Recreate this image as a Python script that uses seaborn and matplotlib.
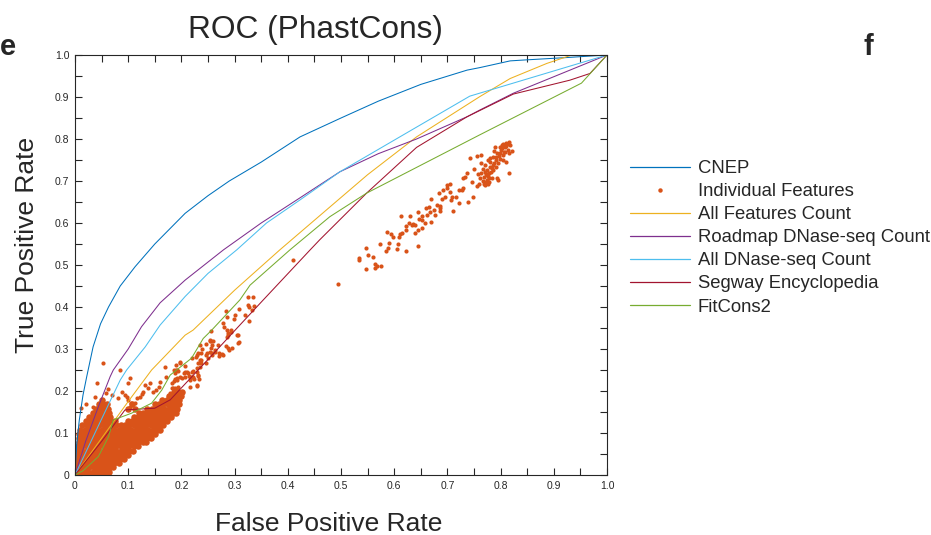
import matplotlib
matplotlib.use("Agg")
import matplotlib.pyplot as plt
import seaborn as sns
import pandas as pd
from matplotlib.lines import Line2D
from matplotlib.ticker import MultipleLocator, FixedFormatter, FixedLocator

# ---------------- data ----------------
cnep_x = [0, 0.003, 0.008, 0.015, 0.022, 0.034, 0.048, 0.063, 0.085, 0.113, 0.15, 0.207, 0.25, 0.29,
          0.35, 0.423, 0.5, 0.57, 0.65, 0.737, 0.761, 0.818, 0.843, 0.925, 1.0]
cnep_y = [0, 0.07, 0.13, 0.19, 0.234, 0.305, 0.36, 0.40, 0.45, 0.496, 0.55, 0.623, 0.665, 0.70,
          0.745, 0.805, 0.85, 0.89, 0.93, 0.964, 0.970, 0.986, 0.988, 0.994, 1.0]

allfeat_x = [0, 0.044, 0.1, 0.144, 0.207, 0.222, 0.30, 0.385, 0.479, 0.55, 0.642, 0.761, 0.818, 0.887, 0.934, 1.0]
allfeat_y = [0, 0.077, 0.175, 0.25, 0.333, 0.345, 0.44, 0.536, 0.638, 0.715, 0.805, 0.901, 0.944, 0.98, 1.0, 1.0]

roadmap_x = [0, 0.02, 0.044, 0.066, 0.072, 0.1, 0.125, 0.16, 0.207, 0.279, 0.35, 0.423, 0.498, 0.57, 0.642,
             0.737, 0.761, 0.824, 1.0]
roadmap_y = [0, 0.08, 0.163, 0.234, 0.25, 0.30, 0.353, 0.41, 0.464, 0.536, 0.60, 0.66, 0.722, 0.765, 0.80,
             0.853, 0.869, 0.909, 1.0]

alldnase_x = [0, 0.03, 0.06, 0.085, 0.097, 0.132, 0.16, 0.207, 0.25, 0.304, 0.36, 0.423, 0.498, 0.742, 1.0]
alldnase_y = [0, 0.08, 0.16, 0.226, 0.25, 0.305, 0.357, 0.425, 0.48, 0.536, 0.60, 0.655, 0.722, 0.902, 1.0]

segway_x = [0, 0.05, 0.094, 0.15, 0.179, 0.25, 0.304, 0.354, 0.442, 0.46, 0.548, 0.642, 0.737, 0.824,
            0.93, 0.968, 1.0]
segway_y = [0, 0.08, 0.155, 0.159, 0.179, 0.275, 0.349, 0.417, 0.536, 0.56, 0.671, 0.78, 0.853, 0.907,
            0.94, 0.956, 1.0]

fitcons_x = [0, 0.015, 0.044, 0.063, 0.072, 0.106, 0.144, 0.163, 0.179, 0.219, 0.241, 0.257, 0.31, 0.329,
             0.404, 0.479, 0.548, 0.761, 0.952, 1.0]
fitcons_y = [0, 0.01, 0.044, 0.091, 0.131, 0.147, 0.171, 0.202, 0.238, 0.278, 0.325, 0.345, 0.417, 0.452,
             0.536, 0.615, 0.671, 0.81, 0.933, 1.0]

# individual features: upper cluster (FPR, TPR)
upper_pts = [
    (0.534, 0.516), (0.534, 0.512), (0.547, 0.540), (0.551, 0.524), (0.561, 0.518), (0.547, 0.490),
    (0.564, 0.502), (0.567, 0.498), (0.564, 0.494), (0.575, 0.498), (0.573, 0.550), (0.587, 0.579),
    (0.584, 0.534), (0.589, 0.540), (0.591, 0.552), (0.594, 0.575), (0.598, 0.566), (0.605, 0.537),
    (0.608, 0.550), (0.609, 0.567), (0.611, 0.575), (0.614, 0.577), (0.613, 0.617), (0.623, 0.533),
    (0.622, 0.583), (0.622, 0.593), (0.630, 0.617), (0.628, 0.599), (0.633, 0.595), (0.636, 0.598),
    (0.639, 0.595), (0.644, 0.545), (0.639, 0.577), (0.645, 0.583), (0.647, 0.609), (0.645, 0.627),
    (0.652, 0.587), (0.653, 0.607), (0.653, 0.617), (0.657, 0.599), (0.661, 0.619), (0.660, 0.635),
    (0.665, 0.637), (0.667, 0.627), (0.670, 0.602), (0.677, 0.618), (0.670, 0.656), (0.674, 0.631),
    (0.686, 0.640), (0.680, 0.643), (0.686, 0.635), (0.687, 0.629), (0.689, 0.656), (0.685, 0.671),
    (0.692, 0.679), (0.695, 0.661), (0.699, 0.683), (0.700, 0.690), (0.704, 0.694), (0.705, 0.675),
    (0.706, 0.655), (0.709, 0.663), (0.711, 0.629), (0.716, 0.663), (0.721, 0.679), (0.722, 0.647),
    (0.727, 0.679), (0.730, 0.684), (0.729, 0.706), (0.733, 0.709), (0.737, 0.718), (0.739, 0.651),
    (0.742, 0.754), (0.748, 0.661), (0.750, 0.728), (0.755, 0.760), (0.764, 0.762), (0.746, 0.698),
    (0.755, 0.687), (0.760, 0.694), (0.761, 0.706), (0.764, 0.718), (0.768, 0.694), (0.769, 0.710),
    (0.771, 0.722), (0.773, 0.698), (0.774, 0.702), (0.774, 0.714), (0.775, 0.726), (0.777, 0.694),
    (0.778, 0.706), (0.779, 0.718), (0.780, 0.734), (0.781, 0.746), (0.783, 0.706), (0.785, 0.738),
    (0.786, 0.758), (0.786, 0.726), (0.789, 0.782), (0.791, 0.750), (0.791, 0.734), (0.793, 0.766),
    (0.794, 0.706), (0.796, 0.742), (0.798, 0.752), (0.799, 0.766), (0.800, 0.774), (0.802, 0.786),
    (0.804, 0.762), (0.805, 0.750), (0.806, 0.770), (0.808, 0.782), (0.810, 0.790), (0.811, 0.783),
    (0.813, 0.775), (0.815, 0.794), (0.816, 0.766), (0.818, 0.786), (0.821, 0.772), (0.816, 0.720),
    (0.810, 0.746), (0.796, 0.702), (0.780, 0.754), (0.771, 0.738), (0.764, 0.742), (0.777, 0.750),
    (0.788, 0.772), (0.799, 0.782), (0.805, 0.788), (0.766, 0.700), (0.770, 0.690), (0.772, 0.716),
    (0.776, 0.712), (0.779, 0.698), (0.782, 0.722), (0.784, 0.730), (0.787, 0.744), (0.792, 0.758),
    (0.797, 0.760), (0.803, 0.778), (0.808, 0.770), (0.812, 0.788), (0.767, 0.728), (0.758, 0.716),
    (0.409, 0.512), (0.494, 0.455),
]

# individual features: sparse band along the diagonal (FPR, TPR)
band_pts = [
    (0.285, 0.345), (0.288, 0.333), (0.294, 0.341), (0.304, 0.333), (0.307, 0.315), (0.288, 0.302),
    (0.279, 0.286), (0.271, 0.290), (0.257, 0.286), (0.263, 0.298), (0.257, 0.310), (0.255, 0.320),
    (0.247, 0.312), (0.235, 0.310), (0.250, 0.278), (0.247, 0.266), (0.235, 0.274), (0.232, 0.266),
    (0.229, 0.254), (0.232, 0.238), (0.229, 0.214), (0.222, 0.234), (0.219, 0.246), (0.213, 0.242),
    (0.207, 0.246), (0.197, 0.266), (0.191, 0.250), (0.188, 0.242), (0.192, 0.230), (0.186, 0.225),
    (0.182, 0.218), (0.185, 0.206), (0.179, 0.196), (0.171, 0.234), (0.169, 0.258), (0.160, 0.222),
    (0.157, 0.210), (0.153, 0.202), (0.147, 0.198), (0.141, 0.218), (0.138, 0.206), (0.132, 0.214),
    (0.128, 0.198), (0.125, 0.194), (0.122, 0.186), (0.116, 0.183), (0.113, 0.172), (0.106, 0.171),
    (0.103, 0.163), (0.100, 0.179), (0.097, 0.186), (0.094, 0.190), (0.100, 0.218), (0.103, 0.230),
    (0.088, 0.198), (0.081, 0.183), (0.085, 0.250), (0.053, 0.266), (0.041, 0.218), (0.038, 0.186),
    (0.034, 0.163), (0.284, 0.391), (0.286, 0.377), (0.301, 0.381), (0.298, 0.371), (0.309, 0.395),
    (0.326, 0.405), (0.327, 0.401), (0.336, 0.402), (0.320, 0.381), (0.327, 0.367), (0.333, 0.394),
    (0.279, 0.363), (0.281, 0.353), (0.293, 0.345), (0.288, 0.339), (0.307, 0.333), (0.308, 0.316),
    (0.256, 0.344), (0.253, 0.321), (0.326, 0.425), (0.334, 0.425), (0.269, 0.310), (0.260, 0.319),
    (0.254, 0.320), (0.255, 0.302), (0.253, 0.294), (0.257, 0.290), (0.248, 0.291), (0.246, 0.286),
    (0.263, 0.294), (0.238, 0.300), (0.236, 0.291), (0.232, 0.290), (0.229, 0.286), (0.228, 0.280),
    (0.219, 0.278), (0.236, 0.274), (0.236, 0.266), (0.235, 0.258), (0.229, 0.246), (0.222, 0.248),
    (0.219, 0.234), (0.216, 0.226), (0.217, 0.233), (0.211, 0.245), (0.206, 0.260), (0.204, 0.244),
    (0.197, 0.268), (0.194, 0.248), (0.190, 0.262), (0.190, 0.250), (0.187, 0.250), (0.188, 0.228),
    (0.191, 0.226), (0.197, 0.234), (0.202, 0.230), (0.207, 0.234), (0.215, 0.236), (0.224, 0.228),
    (0.232, 0.236), (0.234, 0.228), (0.229, 0.212), (0.216, 0.210), (0.194, 0.210), (0.191, 0.202),
    (0.188, 0.206), (0.182, 0.206), (0.185, 0.194), (0.194, 0.188), (0.180, 0.185), (0.184, 0.175),
    (0.185, 0.179), (0.295, 0.302), (0.290, 0.298), (0.284, 0.308), (0.276, 0.288), (0.271, 0.283),
    (0.286, 0.329), (0.020, 0.170), (0.012, 0.160), (0.058, 0.195), (0.062, 0.205), (0.070, 0.190),
]

# individual features: dense mass near the origin, one TPR row each with its FPR values
dense_tpr = [0.000, 0.008, 0.018, 0.028, 0.038, 0.048, 0.058, 0.068, 0.078, 0.088, 0.098, 0.108,
             0.118, 0.128, 0.138, 0.148, 0.158, 0.168, 0.178, 0.188, 0.198]
dense_fpr = [
    [0.002, 0.009, 0.016, 0.024, 0.031, 0.039, 0.046, 0.053],
    [0.003, 0.010, 0.018, 0.025, 0.033, 0.041, 0.049, 0.056, 0.063],
    [0.004, 0.011, 0.019, 0.027, 0.035, 0.043, 0.051, 0.058, 0.065, 0.072],
    [0.004, 0.012, 0.020, 0.028, 0.036, 0.044, 0.052, 0.060, 0.067, 0.074, 0.082],
    [0.005, 0.013, 0.021, 0.029, 0.037, 0.045, 0.053, 0.061, 0.069, 0.077, 0.085, 0.092],
    [0.005, 0.013, 0.021, 0.029, 0.037, 0.045, 0.053, 0.061, 0.069, 0.077, 0.085, 0.093, 0.100],
    [0.006, 0.014, 0.022, 0.030, 0.038, 0.046, 0.054, 0.062, 0.070, 0.078, 0.086, 0.094, 0.102, 0.109],
    [0.006, 0.014, 0.022, 0.030, 0.038, 0.046, 0.054, 0.062, 0.070, 0.078, 0.086, 0.094, 0.102, 0.110, 0.118],
    [0.007, 0.015, 0.023, 0.031, 0.039, 0.047, 0.055, 0.063, 0.071, 0.079, 0.087, 0.095, 0.103, 0.111,
     0.119, 0.127, 0.133],
    [0.007, 0.015, 0.023, 0.031, 0.039, 0.047, 0.055, 0.063, 0.071, 0.079, 0.087, 0.095, 0.103, 0.111,
     0.119, 0.127, 0.135, 0.142],
    [0.008, 0.016, 0.024, 0.032, 0.040, 0.048, 0.056, 0.064, 0.072, 0.080, 0.088, 0.096, 0.104, 0.112,
     0.120, 0.128, 0.136, 0.144, 0.151],
    [0.010, 0.018, 0.026, 0.034, 0.042, 0.050, 0.058, 0.066, 0.074, 0.082, 0.090, 0.098, 0.106, 0.114,
     0.122, 0.130, 0.138, 0.146, 0.154, 0.160],
    [0.014, 0.022, 0.030, 0.038, 0.046, 0.054, 0.062, 0.070, 0.078, 0.086, 0.094, 0.102, 0.110, 0.118,
     0.126, 0.134, 0.142, 0.150, 0.158, 0.166],
    [0.020, 0.028, 0.036, 0.044, 0.052, 0.060, 0.068, 0.076, 0.100, 0.108, 0.116, 0.124, 0.132, 0.140,
     0.148, 0.156, 0.164, 0.172],
    [0.026, 0.034, 0.042, 0.050, 0.058, 0.066, 0.110, 0.118, 0.126, 0.134, 0.142, 0.150, 0.158, 0.166,
     0.174, 0.180],
    [0.033, 0.041, 0.049, 0.057, 0.064, 0.120, 0.128, 0.136, 0.144, 0.152, 0.160, 0.168, 0.176, 0.184, 0.190],
    [0.040, 0.047, 0.054, 0.062, 0.100, 0.112, 0.136, 0.144, 0.152, 0.160, 0.168, 0.176, 0.184, 0.192],
    [0.045, 0.052, 0.060, 0.108, 0.150, 0.158, 0.166, 0.174, 0.182, 0.190, 0.196],
    [0.050, 0.164, 0.172, 0.180, 0.188, 0.196],
    [0.176, 0.184, 0.192, 0.199],
    [0.186, 0.194, 0.201],
]

tick_vals = [0, 0.1, 0.2, 0.3, 0.4, 0.5, 0.6, 0.7, 0.8, 0.9, 1.0]
tick_labels = ["0", "0.1", "0.2", "0.3", "0.4", "0.5", "0.6", "0.7", "0.8", "0.9", "1.0"]

series_names = ["CNEP", "All Features Count", "Roadmap DNase-seq Count", "All DNase-seq Count",
                "Segway Encyclopedia", "FitCons2"]
series_colors = ["#0072BD", "#EDB120", "#7E2F8E", "#4DBEEE", "#A2142F", "#77AC30"]
point_color = "#D95319"

# ---------------- frames ----------------
curves = [(cnep_x, cnep_y), (allfeat_x, allfeat_y), (roadmap_x, roadmap_y),
          (alldnase_x, alldnase_y), (segway_x, segway_y), (fitcons_x, fitcons_y)]
rows = []
for name, (xs, ys) in zip(series_names, curves):
    for i, (a, b) in enumerate(zip(xs, ys)):
        rows.append({"series": name, "idx": i, "fpr": a, "tpr": b})
lines_df = pd.DataFrame(rows)

sparse_df = pd.DataFrame(list(upper_pts) + list(band_pts), columns=["fpr", "tpr"])
dense = []
for yv, xl in zip(dense_tpr, dense_fpr):
    dense += [(xv, yv) for xv in xl]
dense_df = pd.DataFrame(dense, columns=["fpr", "tpr"])

# ---------------- plot ----------------
sns.set_theme(style="ticks")
plt.rcParams["font.family"] = ["Liberation Sans", "DejaVu Sans"]

fig = plt.figure(figsize=(9.31, 5.35), dpi=100)
ax = fig.add_axes([75 / 931, 60 / 535, 532 / 931, 420 / 535])

sns.scatterplot(data=dense_df, x="fpr", y="tpr", color=point_color, s=22, linewidth=0,
                ax=ax, legend=False, zorder=1.5)
sns.scatterplot(data=sparse_df, x="fpr", y="tpr", color=point_color, s=9, linewidth=0,
                ax=ax, legend=False, zorder=1.5)
sns.lineplot(data=lines_df, x="fpr", y="tpr", hue="series", hue_order=series_names,
             palette=dict(zip(series_names, series_colors)), sort=False, estimator=None,
             linewidth=0.75, ax=ax, legend=False, zorder=2)

ax.set_xlim(0, 1)
ax.set_ylim(0, 1)
for axis in (ax.xaxis, ax.yaxis):
    axis.set_major_locator(FixedLocator(tick_vals))
    axis.set_major_formatter(FixedFormatter(tick_labels))
    axis.set_minor_locator(MultipleLocator(0.05))
ax.tick_params(which="both", direction="in", top=True, right=True, length=5, width=0.8,
               colors="#262626", labelsize=7.5, pad=4)
for sp in ax.spines.values():
    sp.set_linewidth(0.8)
    sp.set_color("#262626")

ax.set_xlabel("False Positive Rate", fontsize=19, color="#262626")
ax.set_ylabel("True Positive Rate", fontsize=19, color="#262626")
ax.xaxis.set_label_coords(0.477, -0.088)
ax.yaxis.set_label_coords(-0.068, 0.548)

fig.text(315 / 931, (535 - 38) / 535, "ROC (PhastCons)", fontsize=22.8, ha="center",
         va="baseline", color="#262626")
fig.text(0 / 931, (535 - 55) / 535, "e", fontsize=21, fontweight="bold", ha="left", va="baseline")
fig.text(864 / 931, (535 - 55) / 535, "f", fontsize=21, fontweight="bold", ha="left", va="baseline")

handles = [Line2D([], [], color=series_colors[0], lw=0.9),
           Line2D([], [], color=point_color, marker="o", linestyle="", markersize=3.2, markeredgewidth=0),
           Line2D([], [], color=series_colors[1], lw=0.9),
           Line2D([], [], color=series_colors[2], lw=0.9),
           Line2D([], [], color=series_colors[3], lw=0.9),
           Line2D([], [], color=series_colors[4], lw=0.9),
           Line2D([], [], color=series_colors[5], lw=0.9)]
labels = ["CNEP", "Individual Features", "All Features Count", "Roadmap DNase-seq Count",
          "All DNase-seq Count", "Segway Encyclopedia", "FitCons2"]
fig.legend(handles, labels, loc="upper left", bbox_to_anchor=(630 / 931, (535 - 160) / 535),
           frameon=False, fontsize=13.3, handlelength=3.25, handletextpad=0.42, labelspacing=0.33,
           borderpad=0, borderaxespad=0, numpoints=1, labelcolor="#262626")

fig.savefig("out.png", dpi=100)
